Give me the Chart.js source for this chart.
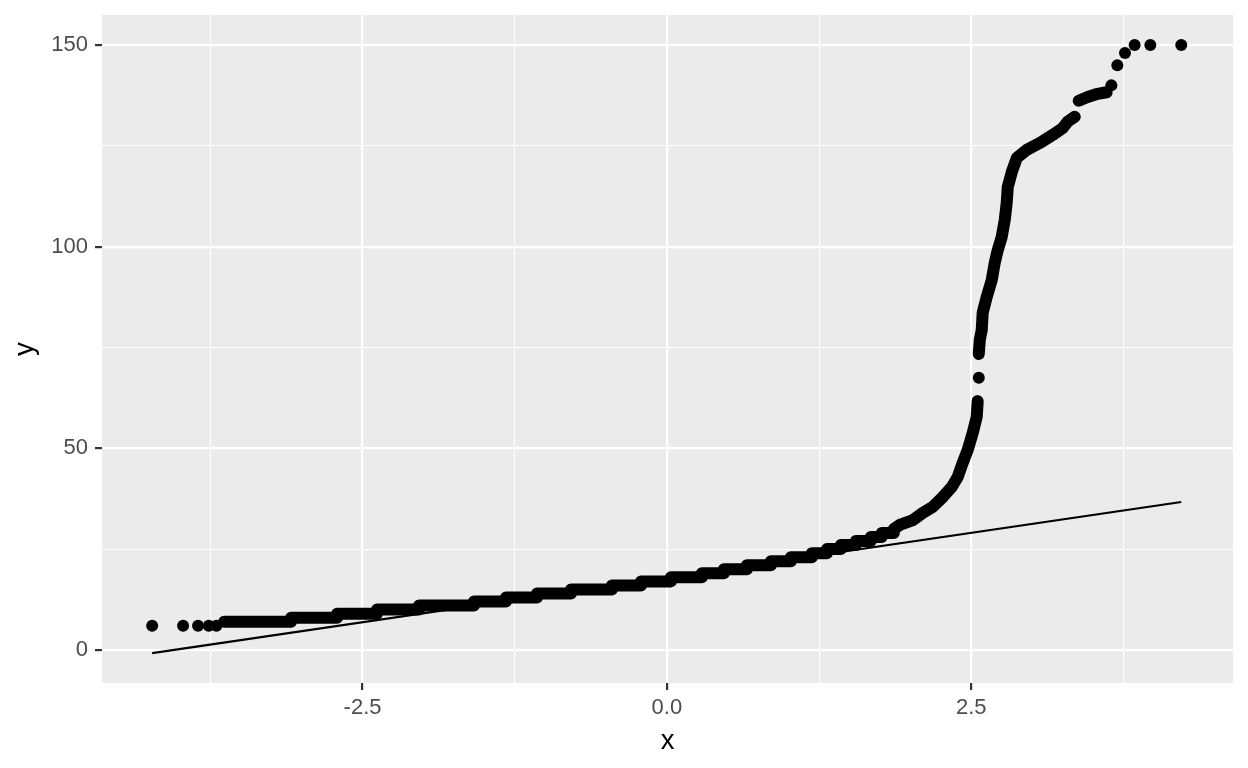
<!DOCTYPE html>
<html>
<head>
<meta charset="utf-8">
<script src="https://cdn.jsdelivr.net/npm/chart.js@4/dist/chart.umd.min.js"></script>
<style>
  html, body { margin: 0; padding: 0; background: #ffffff; }
  #c { display: block; }
</style>
</head>
<body>
<canvas id="c" width="1248" height="768"></canvas>
<script>
// ---- Data (theoretical quantile x, sample value y) ----
// isolated lowest points
const lowTailX = [-4.228, -3.974, -3.851, -3.763, -3.700];
const lowTailY = [6, 6, 6, 6, 6];
// staircase of integer sample values: level and quantile where that level starts
const stepLevels = [7, 8, 9, 10, 11, 12, 13, 14, 15, 16, 17, 18, 19, 20, 21, 22, 23, 24, 25, 26, 27, 28, 29, 30];
const stepStartX = [-3.637, -3.087, -2.709, -2.381, -2.036, -1.585, -1.322, -1.067, -0.788, -0.452, -0.213, 0.033,
                    0.287, 0.468, 0.657, 0.854, 1.018, 1.190, 1.314, 1.429, 1.552, 1.675, 1.765, 1.864];
// steep rise up to about 62
const curveAX = [1.913, 2.020, 2.102, 2.184, 2.266, 2.340, 2.389, 2.430, 2.471, 2.512, 2.545, 2.553];
const curveAY = [31, 32.2, 34, 35.5, 37.9, 40.4, 42.9, 46.4, 49.6, 53.8, 57.8, 61.7];
// lone point in the gap
const midDotX = [2.562];
const midDotY = [67.5];
// second dense run
const curveBX = [2.562, 2.570, 2.586, 2.594, 2.627, 2.668, 2.693, 2.718, 2.750, 2.775, 2.791, 2.800, 2.833, 2.874, 2.956, 3.062, 3.169, 3.251, 3.292, 3.350];
const curveBY = [73.4, 76.9, 79.3, 83.6, 87.5, 91.7, 96.0, 99.2, 102.4, 106.6, 110.8, 114.8, 118.5, 122.0, 124.0, 125.7, 127.7, 129.4, 131.0, 132.2];
// short run near the top
const curveCX = [3.383, 3.456, 3.539, 3.612];
const curveCY = [136.2, 137.1, 137.9, 138.3];
// isolated top points
const topX = [3.651, 3.700, 3.763, 3.842, 3.971, 4.225];
const topY = [140, 145, 148, 150, 150, 150];
// reference (qq) line end points
const lineX = [-4.228, 4.225];
const lineY = [-0.8, 36.7];

// axes
const xGridValues = [-3.75, -2.5, -1.25, 0, 1.25, 2.5, 3.75];
const xTickValues = [-2.5, 0, 2.5];
const xTickLabels = ['-2.5', '0.0', '2.5'];
const yGridValues = [0, 25, 50, 75, 100, 125, 150];
const yTickValues = [0, 50, 100, 150];
const yTickLabels = ['0', '50', '100', '150'];

// ---- build library data from the arrays ----
const zip = (xs, ys) => xs.map((x, i) => ({ x: x, y: ys[i] }));
const stairs = [];
for (let k = 0; k < stepLevels.length; k++) {
  stairs.push({ x: stepStartX[k], y: stepLevels[k] });
  if (k + 1 < stepLevels.length) stairs.push({ x: stepStartX[k + 1], y: stepLevels[k] });
}
const bandA = stairs.concat(zip(curveAX, curveAY));

const DOT_R = 6;
const BAND_W = 12;
const FONT = '"Liberation Sans", Arial, Helvetica, sans-serif';

const bandStyle = {
  type: 'line', showLine: true, borderColor: '#000', backgroundColor: '#000',
  borderWidth: BAND_W, borderCapStyle: 'round', borderJoinStyle: 'round',
  pointRadius: 0, pointHoverRadius: 0, tension: 0, fill: false, order: 2
};
const dotStyle = {
  type: 'scatter', showLine: false, backgroundColor: '#000', borderColor: '#000',
  borderWidth: 0, pointRadius: DOT_R, pointHoverRadius: DOT_R, order: 2
};

const panelBg = {
  id: 'panelBg',
  beforeDraw(chart) {
    const { ctx, chartArea: a } = chart;
    ctx.save();
    ctx.fillStyle = '#EBEBEB';
    ctx.fillRect(a.left, a.top, a.right - a.left, a.bottom - a.top);
    ctx.restore();
  }
};

const isMajorX = v => xTickValues.some(t => Math.abs(t - v) < 1e-9);
const isMajorY = v => yTickValues.some(t => Math.abs(t - v) < 1e-9);

new Chart(document.getElementById('c'), {
  type: 'scatter',
  data: {
    datasets: [
      Object.assign({ label: 'qq line', data: zip(lineX, lineY) }, {
        type: 'line', showLine: true, borderColor: '#000', borderWidth: 2.1,
        pointRadius: 0, pointHoverRadius: 0, tension: 0, fill: false, order: 0
      }),
      Object.assign({ label: 'band A', data: bandA }, bandStyle),
      Object.assign({ label: 'band B', data: zip(curveBX, curveBY) }, bandStyle),
      Object.assign({ label: 'band C', data: zip(curveCX, curveCY) }, bandStyle),
      Object.assign({ label: 'low', data: zip(lowTailX, lowTailY) }, dotStyle),
      Object.assign({ label: 'mid', data: zip(midDotX, midDotY) }, dotStyle),
      Object.assign({ label: 'top', data: zip(topX, topY) }, dotStyle)
    ]
  },
  options: {
    responsive: false,
    animation: false,
    devicePixelRatio: 1,
    layout: { padding: { top: 15, right: 15, left: 0, bottom: 0 } },
    plugins: { legend: { display: false }, tooltip: { enabled: false } },
    scales: {
      x: {
        type: 'linear', min: -4.64, max: 4.65,
        afterBuildTicks: s => { s.ticks = xGridValues.map(v => ({ value: v })); },
        afterFit: s => { s.height = 85; s.paddingLeft = 0; s.paddingRight = 0; },
        border: { display: false },
        grid: {
          color: '#FFFFFF',
          lineWidth: c => (c.tick && isMajorX(c.tick.value)) ? 2.2 : 1.1,
          tickColor: c => (c.tick && isMajorX(c.tick.value)) ? '#333333' : 'rgba(0,0,0,0)',
          tickWidth: 2.2, tickLength: 7, drawTicks: true
        },
        ticks: {
          autoSkip: false, maxRotation: 0, padding: 5,
          color: '#4D4D4D', font: { family: FONT, size: 22 },
          callback: v => { const i = xTickValues.findIndex(t => Math.abs(t - v) < 1e-9); return i >= 0 ? xTickLabels[i] : ''; }
        },
        title: { display: true, text: 'x', color: '#000', font: { family: FONT, size: 27.5 }, padding: { top: 2, bottom: 10 } }
      },
      y: {
        type: 'linear', min: -8.2, max: 157.45,
        afterBuildTicks: s => { s.ticks = yGridValues.map(v => ({ value: v })); },
        afterFit: s => { s.width = 102; s.paddingTop = 0; s.paddingBottom = 0; },
        border: { display: false },
        grid: {
          color: '#FFFFFF',
          lineWidth: c => (c.tick && isMajorY(c.tick.value)) ? 2.2 : 1.1,
          tickColor: c => (c.tick && isMajorY(c.tick.value)) ? '#333333' : 'rgba(0,0,0,0)',
          tickWidth: 2.2, tickLength: 7, drawTicks: true
        },
        ticks: {
          autoSkip: false, padding: 7,
          color: '#4D4D4D', font: { family: FONT, size: 22 },
          callback: v => { const i = yTickValues.findIndex(t => Math.abs(t - v) < 1e-9); return i >= 0 ? yTickLabels[i] : ''; }
        },
        title: { display: true, text: 'y', color: '#000', font: { family: FONT, size: 27.5 }, padding: { top: 9, bottom: 2 } }
      }
    }
  },
  plugins: [panelBg]
});
</script>
</body>
</html>
